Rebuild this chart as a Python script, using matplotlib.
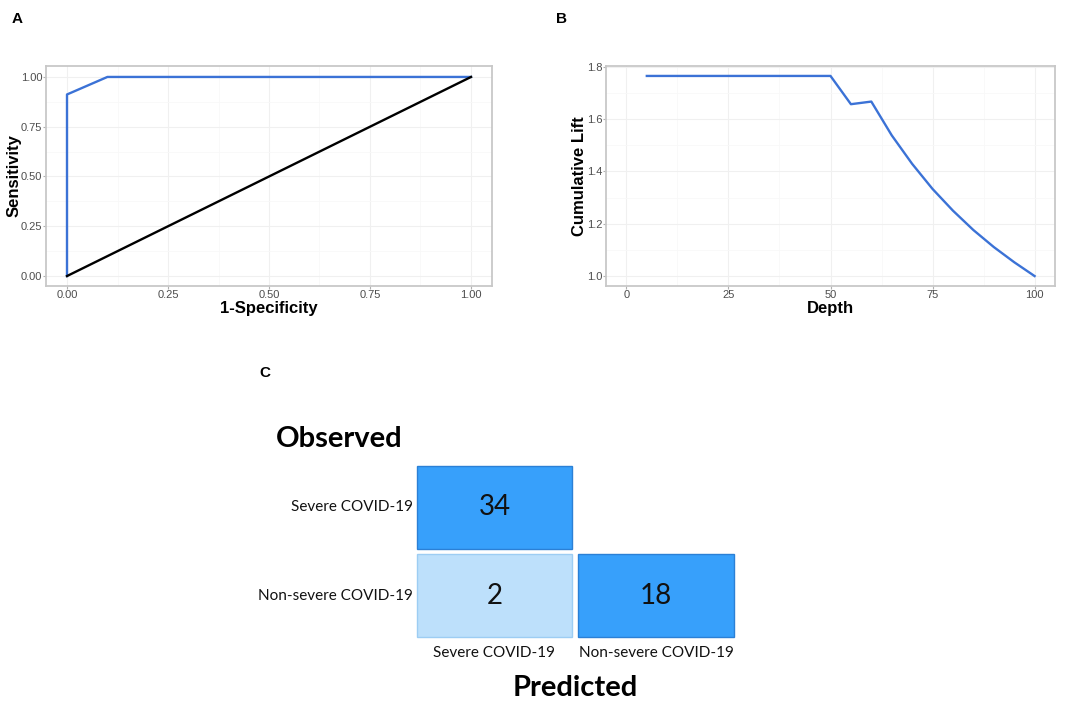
import matplotlib.pyplot as plt
from matplotlib.ticker import MultipleLocator

# ROC curve (panel A)
roc_fpr = [0.0, 0.0, 0.1, 1.0]
roc_tpr = [0.0, 0.912, 1.0, 1.0]
ref_x = [0.0, 1.0]
ref_y = [0.0, 1.0]

# cumulative lift (panel B)
depth = [5, 10, 15, 20, 25, 30, 35, 40, 45, 50, 55, 60, 65, 70, 75, 80, 85, 90, 95, 100]
lift = [1.765, 1.765, 1.765, 1.765, 1.765, 1.765, 1.765, 1.765, 1.765, 1.765,
        1.657, 1.667, 1.538, 1.429, 1.333, 1.25, 1.176, 1.111, 1.053, 1.0]

# confusion matrix (panel C): rows observed, cols predicted
classes = ['Severe COVID-19', 'Non-severe COVID-19']
counts = [[34, None], [2, 18]]

W, H = 1084, 703
fig = plt.figure(figsize=(W / 100, H / 100), dpi=100)
plt.rcParams['font.family'] = ['Liberation Sans', 'DejaVu Sans']

def px_axes(x0, y0, x1, y1):
    return fig.add_axes([x0 / W, 1 - y1 / H, (x1 - x0) / W, (y1 - y0) / H])

def gg_style(ax):
    for s in ax.spines.values():
        s.set_color('#c8c8c8')
        s.set_linewidth(1.3)
    ax.grid(which='major', color='#f0f0f0', linewidth=0.8)
    ax.grid(which='minor', color='#f8f8f8', linewidth=0.6)
    ax.set_axisbelow(True)
    ax.tick_params(which='major', length=2, color='#b0b0b0', labelsize=8,
                   labelcolor='#4d4d4d', pad=0.8)
    ax.tick_params(which='minor', length=0)

# ---- A
axA = px_axes(46, 66, 492, 286)
axA.plot(roc_fpr, roc_tpr, c='#3b72d6', lw=1.7)
axA.plot(ref_x, ref_y, c='black', lw=1.7)
axA.set_xlim(-0.052, 1.052)
axA.set_ylim(-0.05, 1.055)
axA.xaxis.set_major_locator(MultipleLocator(0.25))
axA.yaxis.set_major_locator(MultipleLocator(0.25))
axA.xaxis.set_minor_locator(MultipleLocator(0.125))
axA.yaxis.set_minor_locator(MultipleLocator(0.125))
axA.xaxis.set_major_formatter(lambda v, p: f'{v:.2f}')
axA.yaxis.set_major_formatter(lambda v, p: f'{v:.2f}')
gg_style(axA)
axA.set_xlabel('1-Specificity', fontsize=12, fontweight='bold', labelpad=1)
axA.set_ylabel('Sensitivity', fontsize=12, fontweight='bold', va='center')
axA.yaxis.set_label_coords(-0.072, 0.5)
fig.text(12 / W, 1 - 19 / H, 'A', fontsize=11, fontweight='bold', va='center')

# ---- B
axB = px_axes(606, 66, 1055, 286)
axB.plot(depth, lift, c='#3b72d6', lw=1.7)
axB.set_xlim(-5, 105)
axB.set_ylim(0.962, 1.803)
axB.xaxis.set_major_locator(MultipleLocator(25))
axB.xaxis.set_minor_locator(MultipleLocator(12.5))
axB.yaxis.set_major_locator(MultipleLocator(0.2))
axB.yaxis.set_minor_locator(MultipleLocator(0.1))
axB.yaxis.set_major_formatter(lambda v, p: f'{v:.1f}')
gg_style(axB)
axB.set_xlabel('Depth', fontsize=12, fontweight='bold', labelpad=1)
axB.set_ylabel('Cumulative Lift', fontsize=12, fontweight='bold', va='center')
axB.yaxis.set_label_coords(-0.060, 0.5)
fig.text(556 / W, 1 - 19 / H, 'B', fontsize=11, fontweight='bold', va='center')

# ---- C
cfont = ['Lato', 'DejaVu Sans']
axC = px_axes(413.7, 462.7, 736.7, 640.3)
axC.set_xlim(0, 2)
axC.set_ylim(2, 0)
axC.axis('off')
for i in range(2):
    for j in range(2):
        v = counts[i][j]
        if v is None:
            continue
        if i == j:
            fc, ec = '#37a0fb', '#2b80d6'
        else:
            fc, ec = '#bde0fb', '#9dcdf3'
        axC.bar(j + 0.5, 0.935, bottom=i + 0.0325, width=0.963,
                color=fc, edgecolor=ec, linewidth=1)
        axC.text(j + 0.5, i + 0.5, str(v), ha='center', va='center',
                 fontsize=20, family=cfont, color='#111111')
for i, c in enumerate(classes):
    axC.text(-0.005, i + 0.5, c, ha='right', va='center', fontsize=11,
             family=cfont, color='#111111')
    axC.text(i + 0.5, 2.14, c, ha='center', va='center', fontsize=11,
             family=cfont, color='#111111')

fig.text(276 / W, 1 - 439 / H, 'Observed', fontsize=21, fontweight='bold',
         family=cfont, va='center', ha='left')
fig.text(575 / W, 1 - 688 / H, 'Predicted', fontsize=21, fontweight='bold',
         family=cfont, va='center', ha='center')
fig.text(259 / W, 1 - 373 / H, 'C', fontsize=11, fontweight='bold', va='center')

plt.savefig('out.png', dpi=100)
